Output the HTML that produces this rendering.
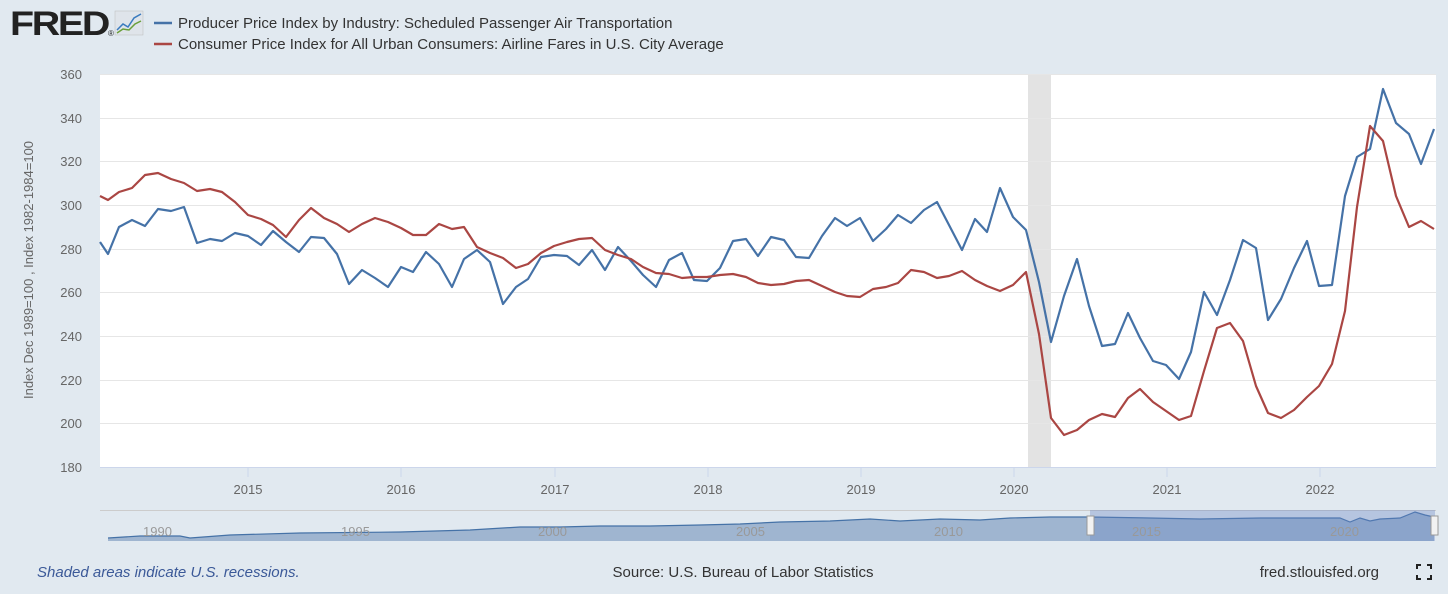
<!DOCTYPE html>
<html><head><meta charset="utf-8"><style>
body{margin:0;width:1448px;height:589px;background:#e1e9f0;font-family:"Liberation Sans",sans-serif;overflow:hidden}
</style></head><body>
<svg width="1448" height="589" xmlns="http://www.w3.org/2000/svg" font-family="Liberation Sans, sans-serif">
<rect width="1448" height="589" fill="#e1e9f0"/>
<text x="10" y="35" font-size="34" font-weight="bold" fill="#222" letter-spacing="-2" textLength="98" lengthAdjust="spacingAndGlyphs">FRED</text>
<text x="108" y="36" font-size="8" fill="#222">®</text>
<rect x="115" y="11" width="28" height="24" fill="#dfe4ea" stroke="#bbb" stroke-width="0.5"/>
<polyline points="117,30 123,24 128,27 134,18 141,14" fill="none" stroke="#3a7bbf" stroke-width="1.5"/>
<polyline points="117,33 123,29 129,30 135,24 141,21" fill="none" stroke="#6a9f3a" stroke-width="1.5"/>
<line x1="154" y1="23" x2="172" y2="23" stroke="#4572a7" stroke-width="2.5"/>
<text x="178" y="28" font-size="15" fill="#333">Producer Price Index by Industry: Scheduled Passenger Air Transportation</text>
<line x1="154" y1="44" x2="172" y2="44" stroke="#aa4643" stroke-width="2.5"/>
<text x="178" y="49" font-size="15" fill="#333">Consumer Price Index for All Urban Consumers: Airline Fares in U.S. City Average</text>
<rect x="100" y="74" width="1336" height="393" fill="#fff"/>
<rect x="1028" y="74" width="23" height="393" fill="#e3e3e3"/>
<g stroke="#e6e6e6" stroke-width="1">
<line x1="100" y1="74.5" x2="1436" y2="74.5"/><line x1="100" y1="118.5" x2="1436" y2="118.5"/><line x1="100" y1="161.5" x2="1436" y2="161.5"/><line x1="100" y1="205.5" x2="1436" y2="205.5"/><line x1="100" y1="249.5" x2="1436" y2="249.5"/><line x1="100" y1="292.5" x2="1436" y2="292.5"/><line x1="100" y1="336.5" x2="1436" y2="336.5"/><line x1="100" y1="380.5" x2="1436" y2="380.5"/><line x1="100" y1="423.5" x2="1436" y2="423.5"/></g>
<line x1="100" y1="467.5" x2="1436" y2="467.5" stroke="#ccd6eb"/>
<g font-size="13" fill="#666" text-anchor="end">
<text x="82" y="79">360</text><text x="82" y="123">340</text><text x="82" y="166">320</text><text x="82" y="210">300</text><text x="82" y="254">280</text><text x="82" y="297">260</text><text x="82" y="341">240</text><text x="82" y="385">220</text><text x="82" y="428">200</text><text x="82" y="472">180</text></g>
<text transform="translate(33,270) rotate(-90)" font-size="13" fill="#666" text-anchor="middle">Index Dec 1989=100 , Index 1982-1984=100</text>
<g stroke="#ccd6eb"><line x1="248" y1="467" x2="248" y2="477"/><line x1="401" y1="467" x2="401" y2="477"/><line x1="555" y1="467" x2="555" y2="477"/><line x1="708" y1="467" x2="708" y2="477"/><line x1="861" y1="467" x2="861" y2="477"/><line x1="1014" y1="467" x2="1014" y2="477"/><line x1="1167" y1="467" x2="1167" y2="477"/><line x1="1320" y1="467" x2="1320" y2="477"/></g>
<g font-size="13" fill="#666" text-anchor="middle">
<text x="248" y="494">2015</text><text x="401" y="494">2016</text><text x="555" y="494">2017</text><text x="708" y="494">2018</text><text x="861" y="494">2019</text><text x="1014" y="494">2020</text><text x="1167" y="494">2021</text><text x="1320" y="494">2022</text></g>
<polyline fill="none" stroke="#4572a7" stroke-width="2.2" stroke-linejoin="round" points="100,242 108,254 119,227 132,220 145,226 158,209 171,211 184,207 197,243 210,239 222,241 235,233 248,236 261,245 273,231 286,242 299,252 311,237 324,238 337,254 349,284 362,270 375,278 388,287 401,267 413,272 426,252 439,264 452,287 464,259 477,250 490,262 503,304 516,287 528,279 541,257 554,255 567,256 579,265 592,250 605,270 618,247 631,261 643,275 656,287 669,260 682,253 694,280 707,281 720,268 733,241 746,239 758,256 771,237 784,240 796,257 809,258 822,236 835,218 847,226 860,218 873,241 886,229 898,215 911,223 924,210 937,202 949,225 962,250 975,219 987,232 1000,188 1013,217 1026,230 1039,282 1051,342 1064,296 1077,259 1089,306 1102,346 1115,344 1128,313 1140,338 1153,361 1166,365 1179,379 1191,352 1204,292 1217,315 1230,280 1243,240 1256,248 1268,320 1281,299 1294,268 1307,241 1319,286 1332,285 1345,196 1357,157 1370,149 1383,89 1396,123 1409,134 1421,164 1434,129"/>
<polyline fill="none" stroke="#aa4643" stroke-width="2.2" stroke-linejoin="round" points="100,196 108,200 119,192 132,188 145,175 158,173 171,179 184,183 197,191 210,189 222,192 235,202 248,215 261,219 273,225 286,237 299,220 311,208 324,218 337,224 349,232 362,224 375,218 388,222 401,228 413,235 426,235 439,224 452,229 464,227 477,247 490,253 503,258 516,268 528,264 541,253 554,246 567,242 579,239 592,238 605,250 618,255 631,259 643,267 656,273 669,274 682,278 694,277 707,277 720,275 733,274 746,277 758,283 771,285 784,284 796,281 809,280 822,286 835,292 847,296 860,297 873,289 886,287 898,283 911,270 924,272 937,278 949,276 962,271 975,280 987,286 1000,291 1013,285 1026,272 1039,334 1051,418 1064,435 1077,430 1089,420 1102,414 1115,417 1128,398 1140,389 1153,402 1166,411 1179,420 1191,416 1204,371 1217,328 1230,323 1243,341 1256,386 1268,413 1281,418 1294,410 1307,397 1319,386 1332,364 1345,311 1357,207 1370,126 1383,141 1396,196 1409,227 1421,221 1434,229"/>
<line x1="100" y1="510.5" x2="1436" y2="510.5" stroke="#ccc"/>
<polygon fill="#9fb5d0" points="108,541 108,538 140,536 180,536 190,538 230,535 300,533 400,532 470,530 520,527 560,527 600,526 650,526 700,525 740,524 780,522 830,521 870,519 900,521 940,519 980,520 1010,518 1050,517 1090,517 1150,518 1200,519 1260,518 1310,518 1340,518 1350,522 1360,518 1370,521 1380,519 1400,518 1415,512 1425,515 1434,517 1434,541"/>
<polyline fill="none" stroke="#4572a7" stroke-width="1.2" points="108,538 140,536 180,536 190,538 230,535 300,533 400,532 470,530 520,527 560,527 600,526 650,526 700,525 740,524 780,522 830,521 870,519 900,521 940,519 980,520 1010,518 1050,517 1090,517 1150,518 1200,519 1260,518 1310,518 1340,518 1350,522 1360,518 1370,521 1380,519 1400,518 1415,512 1425,515 1434,517"/>
<rect x="1090" y="510" width="345" height="31" fill="rgba(102,133,194,0.35)"/>
<g font-size="13" fill="#999"><text x="143" y="536">1990</text><text x="341" y="536">1995</text><text x="538" y="536">2000</text><text x="736" y="536">2005</text><text x="934" y="536">2010</text><text x="1132" y="536">2015</text><text x="1330" y="536">2020</text></g>
<rect x="1087" y="516" width="7" height="19" fill="#f2f2f2" stroke="#999"/>
<rect x="1431" y="516" width="7" height="19" fill="#f2f2f2" stroke="#999"/>
<text x="37" y="577" font-size="15" font-style="italic" fill="#3b5998">Shaded areas indicate U.S. recessions.</text>
<text x="743" y="577" font-size="15" fill="#333" text-anchor="middle">Source: U.S. Bureau of Labor Statistics</text>
<text x="1379" y="577" font-size="15" fill="#333" text-anchor="end">fred.stlouisfed.org</text>
<g stroke="#222" stroke-width="2" fill="none"><polyline points="1417,569 1417,565 1421,565"/><polyline points="1427,565 1431,565 1431,569"/><polyline points="1417,575 1417,579 1421,579"/><polyline points="1427,579 1431,579 1431,575"/></g>
</svg>
</body></html>
